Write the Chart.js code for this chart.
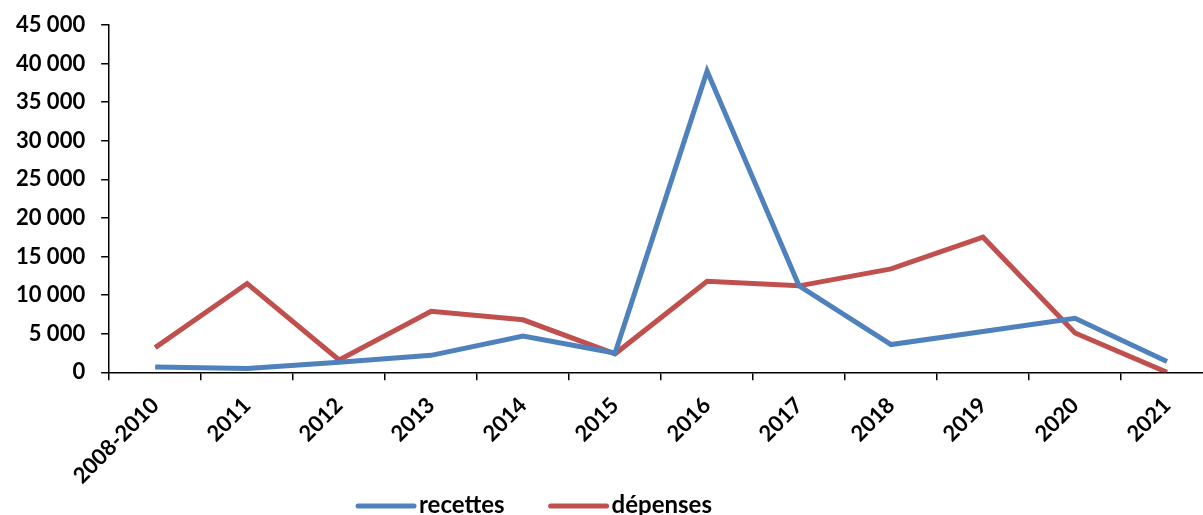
<!DOCTYPE html>
<html>
<head>
<meta charset="utf-8">
<script src="https://cdn.jsdelivr.net/npm/chart.js@4.4.1/dist/chart.umd.min.js"></script>
<style>
  html, body { margin: 0; padding: 0; background: #fff; overflow: hidden; }
  #wrap { width: 1220px; height: 515px; }
</style>
</head>
<body>
<div id="wrap"><canvas id="chart" width="1220" height="515"></canvas></div>
<script>
// --- data ---
const years = ['2008-2010', '2011', '2012', '2013', '2014', '2015', '2016', '2017', '2018', '2019', '2020', '2021'];
const recettes = [700, 500, 1300, 2200, 4700, 2500, 39000, 11200, 3600, 5300, 7000, 1400];
const depenses = [3200, 11500, 1600, 7900, 6800, 2400, 11800, 11200, 13400, 17500, 5100, 0];
const yTicks = [0, 5000, 10000, 15000, 20000, 25000, 30000, 35000, 40000, 45000];

const FONT = 'Lato, "Open Sans", sans-serif';
const BLUE = '#4F81BD';
const RED = '#C0504D';

const fmt = v => String(v).replace(/\B(?=(\d{3})+(?!\d))/g, ' ');

// Excel-like legend drawn under the axis labels
const bottomLegend = {
  id: 'bottomLegend',
  afterDraw(chart) {
    const ctx = chart.ctx;
    const y = 506;
    let x = 358;
    ctx.save();
    ctx.font = 'bold 24px ' + FONT;
    ctx.textBaseline = 'alphabetic';
    ctx.textAlign = 'left';
    chart.data.datasets.forEach(ds => {
      ctx.strokeStyle = ds.borderColor;
      ctx.lineWidth = 5;
      ctx.lineCap = 'round';
      ctx.beginPath();
      ctx.moveTo(x, y);
      ctx.lineTo(x + 56, y);
      ctx.stroke();
      ctx.fillStyle = '#000';
      ctx.fillText(ds.label, x + 61, 513);
      x += 61 + ctx.measureText(ds.label).width + 46;
    });
    ctx.restore();
  }
};

new Chart(document.getElementById('chart'), {
  type: 'line',
  data: {
    labels: years,
    datasets: [{
      label: 'recettes',
      data: recettes,
      borderColor: BLUE,
      backgroundColor: BLUE,
      borderWidth: 5,
      pointRadius: 0,
      tension: 0
    }, {
      label: 'dépenses',
      data: depenses,
      borderColor: RED,
      backgroundColor: RED,
      borderWidth: 5,
      pointRadius: 0,
      tension: 0
    }]
  },
  options: {
    responsive: false,
    animation: false,
    layout: { padding: { top: 8, left: 0, right: 7, bottom: 14 } },
    plugins: {
      legend: { display: false },
      tooltip: { enabled: false }
    },
    scales: {
      x: {
        offset: true,
        grid: { offset: true, drawOnChartArea: false, drawTicks: true, tickLength: 8, color: '#000', lineWidth: 1.5 },
        border: { display: true, color: '#000', width: 1.5 },
        ticks: {
          color: '#000',
          font: { family: FONT, size: 22, weight: 'bold' },
          minRotation: 45,
          maxRotation: 45,
          autoSkip: false,
          padding: 12
        }
      },
      y: {
        min: 0,
        max: 45000,
        afterBuildTicks: axis => { axis.ticks = yTicks.map(v => ({ value: v })); },
        grid: { drawOnChartArea: false, drawTicks: true, tickLength: 8, color: '#000', lineWidth: 1.5 },
        border: { display: true, color: '#000', width: 1.5 },
        ticks: {
          color: '#000',
          font: { family: FONT, size: 22, weight: 'bold', lineHeight: 0.8 },
          padding: 16,
          callback: v => fmt(v)
        }
      }
    }
  },
  plugins: [bottomLegend]
});
</script>
</body>
</html>
